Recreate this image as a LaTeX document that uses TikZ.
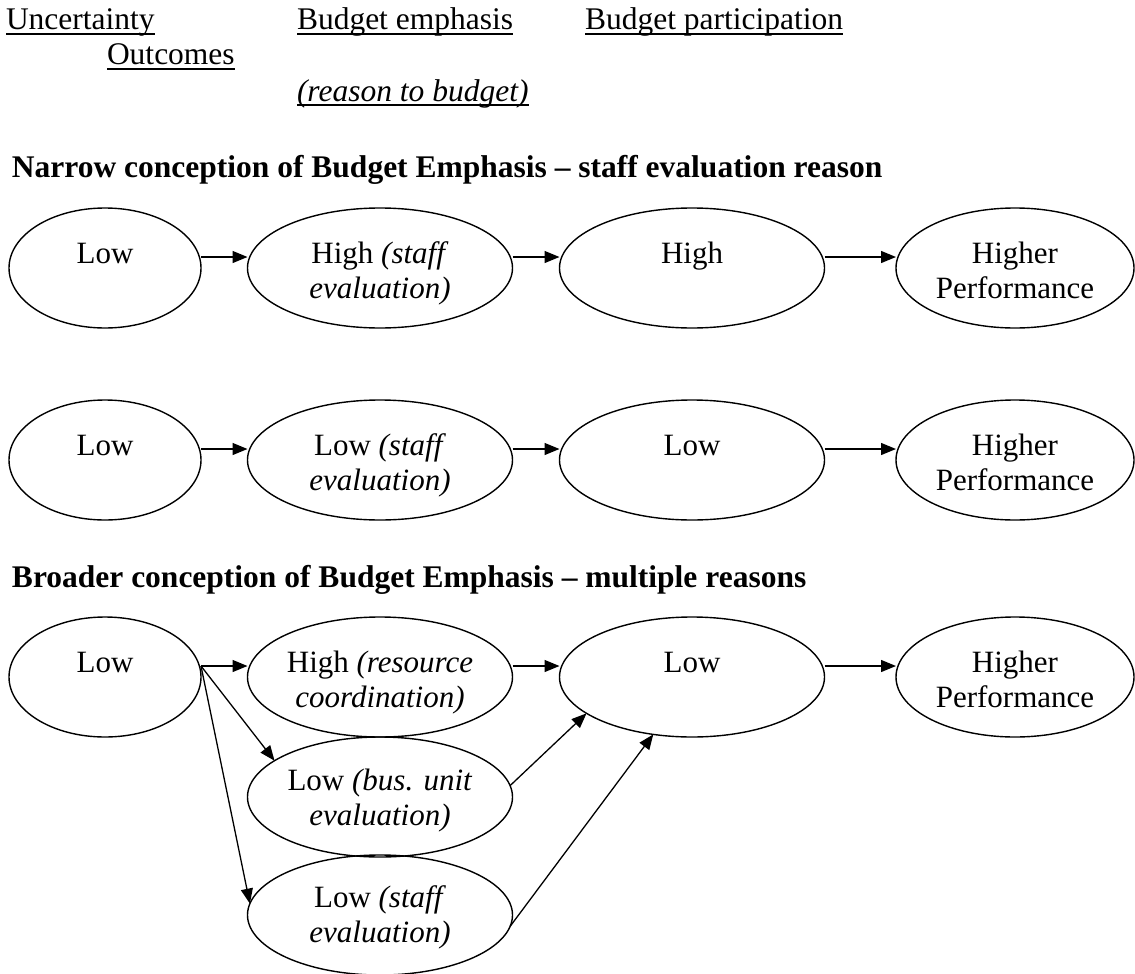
\documentclass[tikz,border=0pt]{standalone}
\usepackage{fontspec}
\setmainfont{Liberation Serif}
\usetikzlibrary{arrows.meta,shapes.geometric}
% two centred lines whose baseline is the first line's
\newcommand{\twoline}[2]{\begin{tabular}[t]{@{}c@{}}#1\\#2\end{tabular}}
\begin{document}
\begin{tikzpicture}[x=1pt,y=-1pt,
  every node/.style={inner sep=0pt, outer sep=0pt},
  oval/.style={draw, line width=1.4pt, ellipse, minimum height=120pt},
  narrowoval/.style={oval, minimum width=192pt},
  wideoval/.style={oval, minimum width=265pt},
  goaloval/.style={oval, minimum width=238pt},
  lbl/.style={anchor=base, font=\fontsize{31}{35}\selectfont},
  hdr/.style={anchor=base west, font=\fontsize{31.5}{35}\selectfont},
  ttl/.style={anchor=base west, font=\fontsize{31.5}{35}\selectfont\bfseries},
  arr/.style={-{Triangle[length=15pt,width=12pt]}, line width=1.3pt},
  uline/.style={line width=1.2pt}
]
\useasboundingbox (0,0) rectangle (1135,974);

% column headings
\node[hdr] (h1) at (6,30) {Uncertainty};
\node[hdr] (h2) at (297,30) {Budget emphasis};
\node[hdr] (h3) at (585,30) {Budget participation};
\node[hdr] (h4) at (107,65) {Outcomes};
\node[hdr] (h5) at (297,101) {\itshape (reason to budget)};
\foreach \n in {h1,h2,h3,h4,h5}
  \draw[uline] ([yshift=-4pt]\n.base west) -- ([yshift=-4pt]\n.base east);

% section titles
\node[ttl] (s1) at (12,177) {Narrow conception of Budget Emphasis – staff evaluation reason};
\node[ttl] (s2) at (12,587) {Broader conception of Budget Emphasis – multiple reasons};

% first row
\node[narrowoval] (r1a) at (105,268) {};
\node[wideoval]   (r1b) at (380,268) {};
\node[wideoval]   (r1c) at (692,268) {};
\node[goaloval]   (r1d) at (1015,268) {};
\node[lbl] (t1a) at ([yshift=5pt]r1a.center) {Low};
\node[lbl] (t1b) at ([yshift=5pt]r1b.center) {\twoline{High \textit{(staff}}{\textit{evaluation)}}};
\node[lbl] (t1c) at ([yshift=5pt]r1c.center) {High};
\node[lbl] (t1d) at ([yshift=5pt]r1d.center) {\twoline{Higher}{Performance}};
\draw[arr] ([yshift=11pt]r1a.east) -- ([yshift=11pt]r1b.west);
\draw[arr] ([yshift=11pt]r1b.east) -- ([yshift=11pt]r1c.west);
\draw[arr] ([yshift=11pt]r1c.east) -- ([yshift=11pt]r1d.west);

% second row
\node[narrowoval] (r2a) at (105,460) {};
\node[wideoval]   (r2b) at (380,460) {};
\node[wideoval]   (r2c) at (692,460) {};
\node[goaloval]   (r2d) at (1015,460) {};
\node[lbl] (t2a) at ([yshift=5pt]r2a.center) {Low};
\node[lbl] (t2b) at ([yshift=5pt]r2b.center) {\twoline{Low \textit{(staff}}{\textit{evaluation)}}};
\node[lbl] (t2c) at ([yshift=5pt]r2c.center) {Low};
\node[lbl] (t2d) at ([yshift=5pt]r2d.center) {\twoline{Higher}{Performance}};
\draw[arr] ([yshift=11pt]r2a.east) -- ([yshift=11pt]r2b.west);
\draw[arr] ([yshift=11pt]r2b.east) -- ([yshift=11pt]r2c.west);
\draw[arr] ([yshift=11pt]r2c.east) -- ([yshift=11pt]r2d.west);

% third row: three reasons fanning out and back in
\node[narrowoval] (r3a) at (105,677) {};
\node[wideoval]   (r3b) at (380,677) {};
\node[wideoval]   (r3c) at (380,797) {};
\node[wideoval]   (r3d) at (380,915) {};
\node[wideoval]   (r3e) at (692,677) {};
\node[goaloval]   (r3f) at (1015,677) {};
\node[lbl] (t3a) at ([yshift=5pt]r3a.center) {Low};
\node[lbl] (t3b) at ([yshift=5pt]r3b.center) {\twoline{High \textit{(resource}}{\textit{coordination)}}};
\node[lbl] (t3c) at ([yshift=7pt]r3c.center) {\twoline{Low \textit{(bus. unit}}{\textit{evaluation)}}};
\node[lbl] (t3d) at ([yshift=8pt]r3d.center) {\twoline{Low \textit{(staff}}{\textit{evaluation)}}};
\node[lbl] (t3e) at ([yshift=5pt]r3e.center) {Low};
\node[lbl] (t3f) at ([yshift=5pt]r3f.center) {\twoline{Higher}{Performance}};
\coordinate (fan) at ([yshift=11pt]r3a.east);
\draw[arr] (fan) -- ([yshift=11pt]r3b.west);
\draw[arr] (fan) -- (r3c.161);
\draw[arr] (fan) -- (r3d.175);
\draw[arr] ([yshift=11pt]r3b.east) -- ([yshift=11pt]r3e.west);
\draw[arr] (r3c.5) -- (r3e.199);
\draw[arr] (r3d.-5) -- (r3e.236);
\draw[arr] ([yshift=11pt]r3e.east) -- ([yshift=11pt]r3f.west);
\end{tikzpicture}
\end{document}
